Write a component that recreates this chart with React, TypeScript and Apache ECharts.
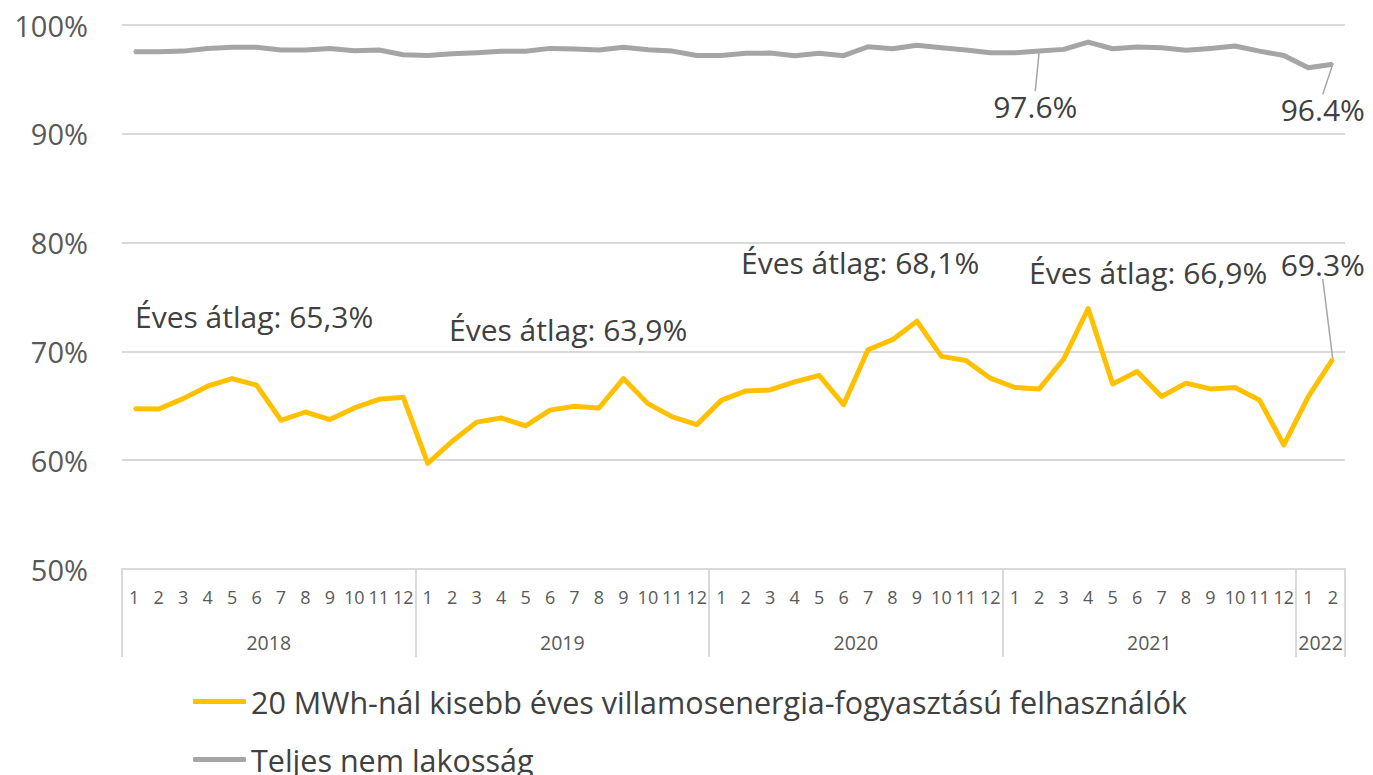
import React, { useEffect, useRef } from "react";
import * as echarts from "echarts";

const monthLabels = [
  "1","2","3","4","5","6","7","8","9","10","11","12",
  "1","2","3","4","5","6","7","8","9","10","11","12",
  "1","2","3","4","5","6","7","8","9","10","11","12",
  "1","2","3","4","5","6","7","8","9","10","11","12",
  "1","2",
];
const years = ["2018", "2019", "2020", "2021", "2022"];
const yearBounds = [0, 12, 24, 36, 48, 50];
const yearMids = [6, 18, 30, 42, 49];

const smallUsers = [
  64.74, 64.7, 65.66, 66.8, 67.5, 66.9, 63.67, 64.43, 63.73, 64.8, 65.6, 65.78,
  59.7, 61.74, 63.5, 63.88, 63.15, 64.6, 64.95, 64.8, 67.5, 65.2, 63.98, 63.27,
  65.5, 66.37, 66.46, 67.2, 67.8, 65.1, 70.15, 71.08, 72.77, 69.54, 69.17, 67.54,
  66.68, 66.55, 69.3, 73.94, 67.0, 68.15, 65.85, 67.08, 66.55, 66.68, 65.54, 61.4,
  65.85, 69.3,
];
const totalNonRes = [
  97.55, 97.55, 97.6, 97.85, 97.95, 97.95, 97.7, 97.7, 97.85, 97.64, 97.7, 97.27,
  97.2, 97.36, 97.45, 97.58, 97.58, 97.85, 97.8, 97.7, 97.95, 97.73, 97.6, 97.2,
  97.2, 97.4, 97.42, 97.18, 97.4, 97.18, 98.0, 97.82, 98.13, 97.9, 97.7, 97.45,
  97.45, 97.6, 97.76, 98.43, 97.82, 97.98, 97.9, 97.67, 97.85, 98.07, 97.6, 97.2,
  96.07, 96.4,
];
const seriesNames = [
  "20 MWh-nál kisebb éves villamosenergia-fogyasztású felhasználók",
  "Teljes nem lakosság",
];
const avgLabels = ["Éves átlag: 65,3%", "Éves átlag: 63,9%", "Éves átlag: 68,1%", "Éves átlag: 66,9%"];
const smallLabelIdx = [49];
const totalLabelIdx = [37, 49];

const FONT = "'Open Sans', 'Noto Sans', sans-serif";
const TEXT = "#404040";
const AXIS_TEXT = "#595959";
const GRID = "#d9d9d9";

export default function App() {
  const ref = useRef<HTMLDivElement>(null);
  useEffect(() => {
    document.body.style.margin = "0";
    if (!ref.current) return;
    const chart = echarts.init(ref.current, undefined, { renderer: "svg" });
    const labelStyle = { fontSize: 30, color: TEXT, fontFamily: FONT, formatter: (p: any) => p.value.toFixed(1) + "%" };
    const mkData = (arr: number[], idx: number[], pos: string) =>
      arr.map((v, i) => (idx.includes(i) ? { value: v, label: { show: true, position: pos, ...labelStyle } } : v));
    const avgPos = [
      [135, 316],
      [449, 329],
      [741, 262],
      [1029, 272],
    ];
    chart.setOption({
      animation: false,
      textStyle: { fontFamily: FONT },
      grid: { left: 122, right: 28, top: 25, bottom: 206, containLabel: false },
      legend: {
        orient: "vertical",
        left: 188,
        top: 681,
        height: 300,
        icon: "roundRect",
        itemWidth: 53,
        itemHeight: 5,
        itemGap: 27,
        textStyle: { fontSize: 30.5, color: TEXT, fontFamily: FONT },
        data: seriesNames,
      },
      xAxis: [
        {
          type: "category",
          data: monthLabels,
          boundaryGap: true,
          axisLine: { show: true, lineStyle: { color: GRID, width: 2 } },
          axisTick: { show: false },
          axisLabel: { interval: 0, margin: 19, fontSize: 18, color: AXIS_TEXT, fontFamily: FONT },
        },
        {
          type: "value",
          min: 0,
          max: 50,
          position: "bottom",
          axisLine: { show: false },
          splitLine: { show: false },
          axisTick: { show: true, customValues: yearBounds, length: 88, lineStyle: { color: GRID, width: 2 } },
          axisLabel: {
            customValues: yearMids,
            formatter: (v: number) => years[yearMids.indexOf(v)] ?? "",
            margin: 63,
            fontSize: 19.5,
            color: AXIS_TEXT,
            fontFamily: FONT,
          },
        },
      ],
      yAxis: {
        type: "value",
        min: 50,
        max: 100,
        interval: 10,
        axisLine: { show: false },
        axisTick: { show: false },
        splitLine: { lineStyle: { color: GRID, width: 2 } },
        axisLabel: { formatter: "{value}%", fontSize: 29, color: AXIS_TEXT, margin: 34, fontFamily: FONT },
      },
      series: [
        {
          name: seriesNames[0],
          type: "line",
          data: mkData(smallUsers, smallLabelIdx, "top"),
          color: "#FFC000",
          symbol: "circle",
          symbolSize: 2,
          lineStyle: { width: 5, color: "#FFC000", join: "round" },
          labelLine: { show: true, lineStyle: { color: "#a6a6a6", width: 1.5 } },
          labelLayout: (p: any) => (p.dataIndex === 49 ? { dx: -10, dy: -74 } : {}),
        },
        {
          name: seriesNames[1],
          type: "line",
          data: mkData(totalNonRes, totalLabelIdx, "bottom"),
          color: "#A5A5A5",
          symbol: "circle",
          symbolSize: 2,
          lineStyle: { width: 5, color: "#A5A5A5", join: "round" },
          labelLine: { show: true, lineStyle: { color: "#a6a6a6", width: 1.5 } },
          labelLayout: (p: any) =>
            p.dataIndex === 37 ? { dx: -4, dy: 34 } : p.dataIndex === 49 ? { dx: -10, dy: 24 } : {},
        },
      ],
      graphic: avgLabels.map((t, i) => ({
        type: "text",
        x: avgPos[i][0],
        y: avgPos[i][1],
        style: { text: t, fontSize: 30, fill: TEXT, fontFamily: FONT, verticalAlign: "middle" },
      })),
    });
    return () => chart.dispose();
  }, []);
  return <div ref={ref} style={{ width: 1373, height: 775 }} />;
}
